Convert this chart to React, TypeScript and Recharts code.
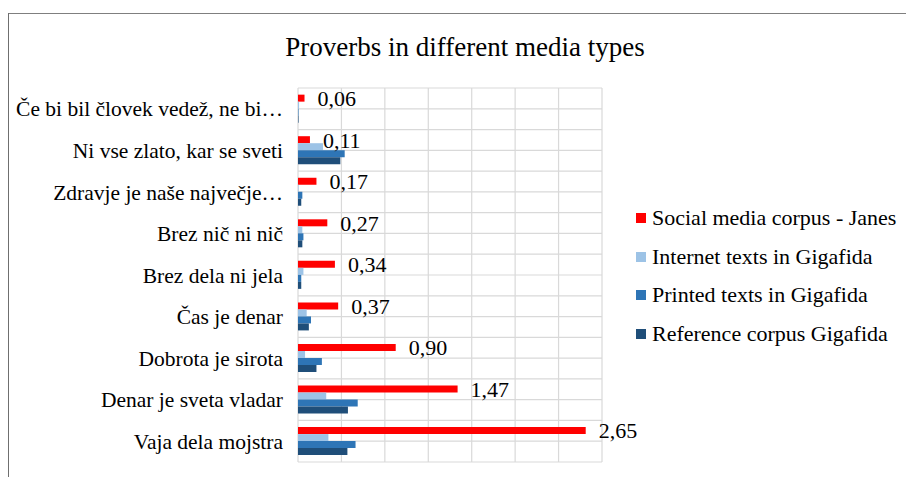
import React from 'react';
import { BarChart, Bar, XAxis, YAxis, CartesianGrid, LabelList } from 'recharts';

const categories = [
  'Če bi bil človek vedež, ne bi…',
  'Ni vse zlato, kar se sveti',
  'Zdravje je naše največje…',
  'Brez nič ni nič',
  'Brez dela ni jela',
  'Čas je denar',
  'Dobrota je sirota',
  'Denar je sveta vladar',
  'Vaja dela mojstra',
];
const socialJanes = [0.06, 0.11, 0.17, 0.27, 0.34, 0.37, 0.9, 1.47, 2.65];
const internetGigafida = [0.01, 0.23, 0.005, 0.04, 0.05, 0.08, 0.065, 0.26, 0.28];
const printedGigafida = [0.005, 0.43, 0.04, 0.05, 0.03, 0.12, 0.22, 0.55, 0.53];
const referenceGigafida = [0.005, 0.39, 0.03, 0.04, 0.03, 0.1, 0.17, 0.46, 0.455];
const xTicks = [0, 0.4, 0.8, 1.2, 1.6, 2.0, 2.4, 2.8];

const seriesNames = [
  'Social media corpus - Janes',
  'Internet texts in Gigafida',
  'Printed texts in Gigafida',
  'Reference corpus Gigafida',
];
const colors = ['#FF0000', '#9DC3E6', '#2E75B6', '#1F4E79'];

const data = categories.map((name, i) => ({
  name,
  s0: socialJanes[i],
  s1: internetGigafida[i],
  s2: printedGigafida[i],
  s3: referenceGigafida[i],
}));

const FONT = '"Liberation Serif", "Times New Roman", serif';

export default function App() {
  return (
    <div style={{ position: 'relative', margin: '-8px -8px 0 -8px', width: 914, height: 477, background: '#fff', overflow: 'hidden' }}>
      <div style={{ position: 'absolute', left: 0, top: 30, width: 930, textAlign: 'center', fontFamily: FONT, fontSize: 27, color: '#000', lineHeight: '34px' }}>
        Proverbs in different media types
      </div>
      <div style={{ position: 'absolute', left: 0, top: 0 }}>
        <BarChart
          width={914}
          height={477}
          data={data}
          layout="vertical"
          margin={{ top: 88, right: 312, bottom: 15, left: 0 }}
          barCategoryGap="16%"
          barGap={0}
        >
          <CartesianGrid
            stroke="#d9d9d9"
            strokeWidth={1.2}
            horizontalCoordinatesGenerator={({ offset }: any) => {
              const n = categories.length * 2;
              const arr: number[] = [];
              for (let i = 0; i <= n; i++) arr.push(offset.top + (offset.height * i) / n);
              return arr;
            }}
          />
          <XAxis type="number" domain={[0, 2.8]} ticks={xTicks} hide />
          <YAxis
            type="category"
            dataKey="name"
            width={298}
            interval={0}
            axisLine={false}
            tickLine={false}
            tickSize={0}
            tickMargin={15}
            tick={{ fill: '#000', fontSize: 21.5, fontFamily: FONT }}
          />
          {['s0', 's1', 's2', 's3'].map((k, i) => (
            <Bar key={k} dataKey={k} name={seriesNames[i]} fill={colors[i]} isAnimationActive={false}>
              {i === 0 && (
                <LabelList
                  dataKey="s0"
                  position="right"
                  offset={13}
                  formatter={(v: any) => Number(v).toFixed(2).replace('.', ',')}
                  style={{ fill: '#000', fontSize: 22, fontFamily: FONT }}
                />
              )}
            </Bar>
          ))}
        </BarChart>
      </div>
      <div style={{ position: 'absolute', left: 636, top: 199, fontFamily: FONT, fontSize: 22, color: '#000' }}>
        {seriesNames.map((n, i) => (
          <div key={n} style={{ display: 'flex', alignItems: 'center', height: 38.5, whiteSpace: 'nowrap' }}>
            <span style={{ display: 'inline-block', width: 10, height: 10, background: colors[i], marginRight: 6 }} />
            <span>{n}</span>
          </div>
        ))}
      </div>
      <div style={{ position: 'absolute', left: 7, top: 13, width: 907, height: 1, background: '#7f7f7f', pointerEvents: 'none' }} />
      <div style={{ position: 'absolute', left: 7, top: 13, width: 2, height: 520, background: '#6f6f6f', pointerEvents: 'none' }} />
    </div>
  );
}
